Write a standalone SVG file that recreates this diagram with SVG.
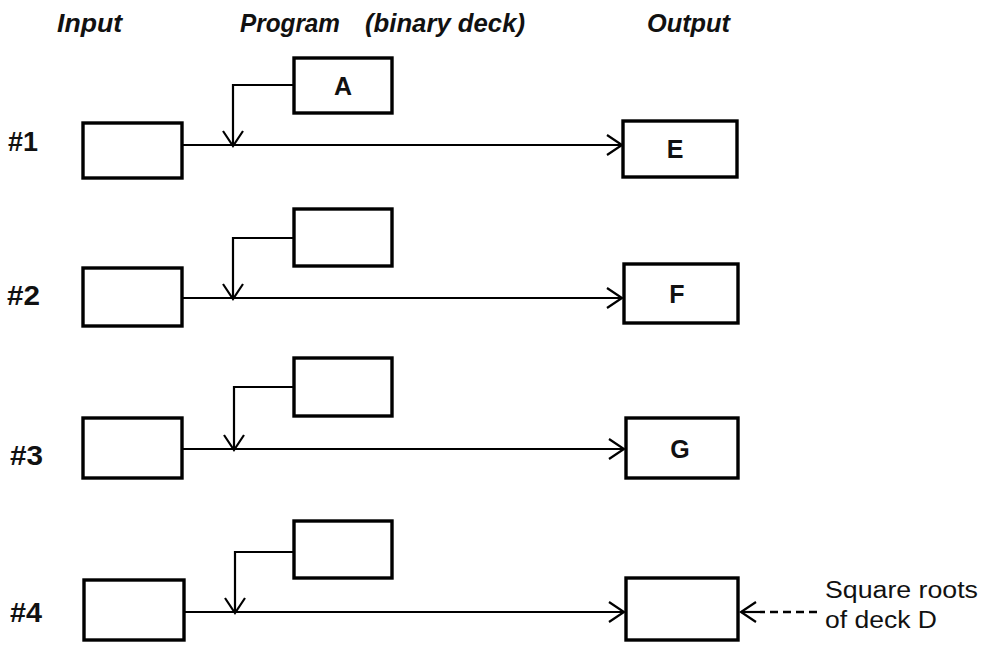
<svg xmlns="http://www.w3.org/2000/svg" width="994" height="645" viewBox="0 0 994 645">
<defs>
<marker id="open" viewBox="0 0 20 24" refX="18" refY="12" markerWidth="20" markerHeight="24" markerUnits="userSpaceOnUse" orient="auto">
<path d="M3,2 L18,12 L3,22" fill="none" stroke="#000" stroke-width="2.2"/>
</marker>
</defs>
<style>
.box{fill:#fff;stroke:#000;stroke-width:3.4}
.ln{fill:none;stroke:#000;stroke-width:2.2}
.dash{fill:none;stroke:#000;stroke-width:2.6;stroke-dasharray:8,5}
.hd{font-family:"Liberation Sans",Arial,sans-serif;font-style:italic;font-weight:bold;font-size:25px;fill:#111}
.num{font-family:"Liberation Sans",Arial,sans-serif;font-weight:bold;font-size:27px;fill:#111}
.lb{font-family:"Liberation Sans",Arial,sans-serif;font-weight:bold;font-size:25px;fill:#111}
.note{font-family:"Liberation Sans",Arial,sans-serif;font-size:23px;fill:#111}
</style>
<rect width="994" height="645" fill="#fff"/>
<g id="headers">
<text class="hd" x="57" y="32" textLength="65" lengthAdjust="spacingAndGlyphs">Input</text>
<text class="hd" x="240" y="32" textLength="100" lengthAdjust="spacingAndGlyphs">Program</text>
<text class="hd" x="365" y="32" textLength="160" lengthAdjust="spacingAndGlyphs">(binary deck)</text>
<text class="hd" x="647" y="32" textLength="83" lengthAdjust="spacingAndGlyphs">Output</text>
</g>
<g id="row-labels">
<text class="num" x="8" y="151" textLength="30" lengthAdjust="spacingAndGlyphs">#1</text>
<text class="num" x="7" y="305" textLength="33" lengthAdjust="spacingAndGlyphs">#2</text>
<text class="num" x="10" y="465" textLength="33" lengthAdjust="spacingAndGlyphs">#3</text>
<text class="num" x="10" y="622" textLength="32" lengthAdjust="spacingAndGlyphs">#4</text>
</g>
<g id="connectors">
<path class="ln" d="M182,145 H622" marker-end="url(#open)"/>
<path class="ln" d="M294,85 H233 V146" marker-end="url(#open)"/>
<path class="ln" d="M182,298 H622" marker-end="url(#open)"/>
<path class="ln" d="M294,238 H233 V299" marker-end="url(#open)"/>
<path class="ln" d="M182,449 H624" marker-end="url(#open)"/>
<path class="ln" d="M294,387 H234 V450" marker-end="url(#open)"/>
<path class="ln" d="M184,612 H624" marker-end="url(#open)"/>
<path class="ln" d="M294,552 H235 V613" marker-end="url(#open)"/>
<path class="dash" d="M817,612 H760"/>
<path class="ln" d="M760,612 H741" marker-end="url(#open)"/>
</g>
<g id="in1"><rect class="box" x="83" y="123" width="99" height="55"/></g>
<g id="progA"><rect class="box" x="294" y="58" width="98" height="55"/><text class="lb" x="343" y="95" text-anchor="middle">A</text></g>
<g id="outE"><rect class="box" x="623" y="121" width="114" height="56"/><text class="lb" x="675" y="158" text-anchor="middle">E</text></g>
<g id="in2"><rect class="box" x="83" y="268" width="99" height="58"/></g>
<g id="prog2"><rect class="box" x="294" y="209" width="98" height="57"/></g>
<g id="outF"><rect class="box" x="624" y="264" width="114" height="59"/><text class="lb" x="677" y="303" text-anchor="middle">F</text></g>
<g id="in3"><rect class="box" x="83" y="418" width="99" height="60"/></g>
<g id="prog3"><rect class="box" x="294" y="358" width="98" height="58"/></g>
<g id="outG"><rect class="box" x="626" y="418" width="112" height="60"/><text class="lb" x="680" y="458" text-anchor="middle">G</text></g>
<g id="in4"><rect class="box" x="84" y="580" width="100" height="60"/></g>
<g id="prog4"><rect class="box" x="294" y="521" width="98" height="57"/></g>
<g id="out4"><rect class="box" x="626" y="578" width="112" height="62"/></g>
<g id="note">
<text class="note" x="825" y="598" textLength="153" lengthAdjust="spacingAndGlyphs">Square roots</text>
<text class="note" x="825" y="628" textLength="112" lengthAdjust="spacingAndGlyphs">of deck D</text>
</g>
</svg>
